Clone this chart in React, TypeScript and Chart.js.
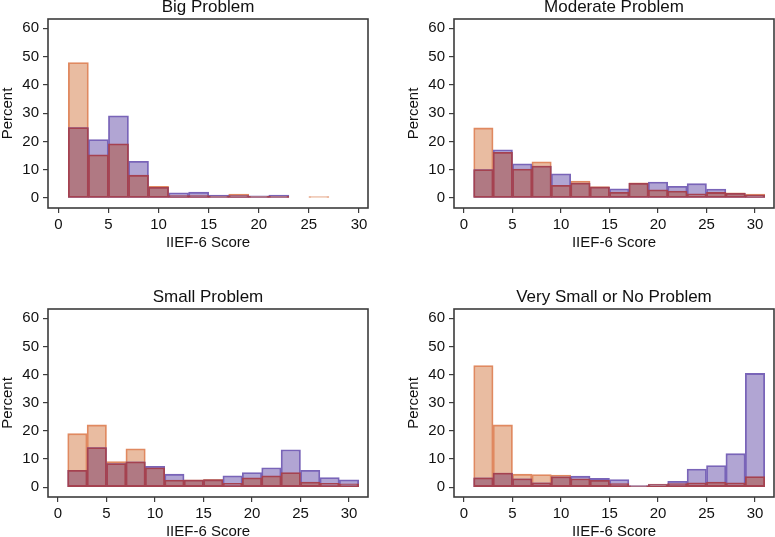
import React, { useEffect, useRef } from 'react';
import { Chart, registerables } from 'chart.js';

Chart.register(...registerables);

// ---- data ----
const binCenters = [2, 4, 6, 8, 10, 12, 14, 16, 18, 20, 22, 24, 26, 28, 30];
const xTickValues = [0, 5, 10, 15, 20, 25, 30];
const yTickValues = [0, 10, 20, 30, 40, 50, 60];
const xAxisTitle = 'IIEF-6 Score';
const yAxisTitle = 'Percent';

const bigTitle = 'Big Problem';
const bigOrange = [47.9, 15.3, 19.2, 8.1, 4.2, 0.9, 0.9, 0.7, 1.4, 0.6, 0.6, null, 0.5, null, null];
const bigPurple = [24.9, 20.7, 29.1, 13.0, 3.8, 1.9, 2.1, 1.1, 0.9, 0.8, 1.1, null, null, null, null];

const moderateTitle = 'Moderate Problem';
const moderateOrange = [24.8, 16.2, 10.3, 12.8, 4.5, 6.0, 4.1, 2.1, 5.4, 2.9, 2.5, 1.5, 2.0, 1.9, 1.4];
const moderatePurple = [10.1, 17.1, 12.1, 11.3, 8.6, 5.3, 3.9, 3.3, 5.2, 5.7, 4.2, 5.1, 3.2, 1.7, 1.1];

const smallTitle = 'Small Problem';
const smallOrange = [19.0, 22.1, 9.1, 13.6, 6.9, 2.5, 2.6, 2.8, 1.4, 3.3, 4.0, 5.2, 1.8, 1.4, 1.2];
const smallPurple = [6.0, 14.1, 8.4, 9.0, 7.4, 4.6, 2.5, 2.6, 4.0, 5.2, 6.9, 13.3, 6.0, 3.4, 2.6];

const noneTitle = 'Very Small or No Problem';
const noneOrange = [43.2, 22.1, 4.6, 4.5, 4.3, 3.0, 2.4, 1.3, 0.5, 1.1, 1.3, 1.5, 1.8, 1.5, 3.8];
const nonePurple = [3.3, 5.0, 3.0, 1.5, 3.7, 3.9, 3.1, 2.7, 0.6, 0.9, 2.1, 6.4, 7.7, 11.9, 40.4];

// ---- styles ----
const FONT = "'Liberation Sans', Arial, Helvetica, sans-serif";
const TEXT = '#111111';
const AXIS = '#3c3c3c';
const orangeFill = 'rgb(233,188,161)';
const orangeLine = 'rgb(224,137,96)';
const purpleFill = 'rgb(177,165,211)';
const purpleLine = 'rgb(121,100,184)';
const overlapFill = 'rgb(176,121,131)';
const overlapLine = 'rgb(165,66,80)';

type Spec = {
  title: string;
  orange: (number | null)[];
  purple: (number | null)[];
  xMin: number;
  xMax: number;
  left: number;
  top: number;
  width: number;
  height: number;
  area: { left: number; top: number; right: number; bottom: number };
};

const panels: Spec[] = [
  { title: bigTitle, orange: bigOrange, purple: bigPurple, xMin: -1.03, xMax: 30.9,
    left: 0, top: 0, width: 387, height: 268, area: { left: 48, top: 19, right: 368, bottom: 208 } },
  { title: moderateTitle, orange: moderateOrange, purple: moderatePurple, xMin: -1.03, xMax: 31.96,
    left: 387, top: 0, width: 388, height: 268, area: { left: 67, top: 19, right: 387, bottom: 208 } },
  { title: smallTitle, orange: smallOrange, purple: smallPurple, xMin: -1.03, xMax: 31.96,
    left: 0, top: 268, width: 387, height: 269, area: { left: 48, top: 41, right: 368, bottom: 229 } },
  { title: noneTitle, orange: noneOrange, purple: nonePurple, xMin: -1.03, xMax: 31.96,
    left: 387, top: 268, width: 388, height: 269, area: { left: 67, top: 41, right: 387, bottom: 229 } },
];

const textPlugin = {
  id: 'panelText',
  afterDraw(chart: any, _args: any, opts: any) {
    const { ctx, chartArea } = chart;
    const a = chartArea;
    ctx.save();
    // frame
    ctx.strokeStyle = AXIS;
    ctx.lineWidth = 1.6;
    ctx.strokeRect(a.left, a.top, a.right - a.left, a.bottom - a.top);
    ctx.fillStyle = TEXT;
    // title
    ctx.font = `17px ${FONT}`;
    ctx.textAlign = 'center';
    ctx.textBaseline = 'alphabetic';
    ctx.fillText(opts.title, (a.left + a.right) / 2, a.top - 7);
    // x title
    ctx.font = `15px ${FONT}`;
    ctx.fillText(xAxisTitle, (a.left + a.right) / 2, a.bottom + 38.5);
    // y title
    ctx.translate(a.left - 36.5, (a.top + a.bottom) / 2);
    ctx.rotate(-Math.PI / 2);
    ctx.fillText(yAxisTitle, 0, 0);
    ctx.restore();
  },
};

function Panel({ spec }: { spec: Spec }) {
  const ref = useRef<HTMLCanvasElement | null>(null);
  useEffect(() => {
    if (!ref.current) return;
    const overlap = spec.orange.map((o, i) => {
      const p = spec.purple[i];
      return o == null || p == null ? null : Math.min(o, p);
    });
    const pts = (arr: (number | null)[]) => arr.map((v, i) => ({ x: binCenters[i], y: v }));
    const common = {
      grouped: false,
      categoryPercentage: 1,
      barPercentage: 1,
      borderWidth: 1.8,
      borderSkipped: false,
    };
    const a = spec.area;
    const chart = new Chart(ref.current, {
      type: 'bar',
      data: {
        datasets: [
          { ...common, label: 'overlap', data: pts(overlap), backgroundColor: overlapFill, borderColor: overlapLine, order: 0 },
          { ...common, label: 'purple', data: pts(spec.purple), backgroundColor: purpleFill, borderColor: purpleLine, order: 1 },
          { ...common, label: 'orange', data: pts(spec.orange), backgroundColor: orangeFill, borderColor: orangeLine, order: 2 },
        ] as any,
      },
      options: {
        animation: false,
        responsive: false,
        maintainAspectRatio: false,
        layout: { padding: { left: 0, top: a.top, right: spec.width - a.right, bottom: 0 } },
        plugins: {
          legend: { display: false },
          tooltip: { enabled: false },
          panelText: { title: spec.title },
        } as any,
        scales: {
          x: {
            type: 'linear',
            min: spec.xMin,
            max: spec.xMax,
            offset: false,
            grid: { display: true, drawOnChartArea: false, drawTicks: true, tickLength: 5, color: AXIS, lineWidth: 1.2, offset: false },
            border: { display: false },
            ticks: { color: TEXT, font: { family: FONT, size: 15 }, padding: 3, maxRotation: 0, autoSkip: false },
            afterBuildTicks: (s: any) => { s.ticks = xTickValues.map((value) => ({ value })); },
            afterFit: (s: any) => { s.height = spec.height - a.bottom; },
          },
          y: {
            type: 'linear',
            min: -3.5,
            max: 63.3,
            grid: { display: true, drawOnChartArea: false, drawTicks: true, tickLength: 5, color: AXIS, lineWidth: 1.2 },
            border: { display: false },
            ticks: { color: TEXT, font: { family: FONT, size: 15 }, padding: 4, autoSkip: false },
            afterBuildTicks: (s: any) => { s.ticks = yTickValues.map((value) => ({ value })); },
            afterFit: (s: any) => { s.width = a.left; },
          },
        },
      } as any,
      plugins: [textPlugin],
    });
    return () => chart.destroy();
  }, [spec]);
  return (
    <canvas
      ref={ref}
      width={spec.width}
      height={spec.height}
      style={{ position: 'absolute', left: spec.left, top: spec.top, width: spec.width, height: spec.height }}
    />
  );
}

export default function App() {
  return (
    <div style={{ position: 'fixed', left: 0, top: 0, width: 775, height: 537, background: '#ffffff', overflow: 'hidden' }}>
      {panels.map((p) => (
        <Panel key={p.title} spec={p} />
      ))}
    </div>
  );
}
